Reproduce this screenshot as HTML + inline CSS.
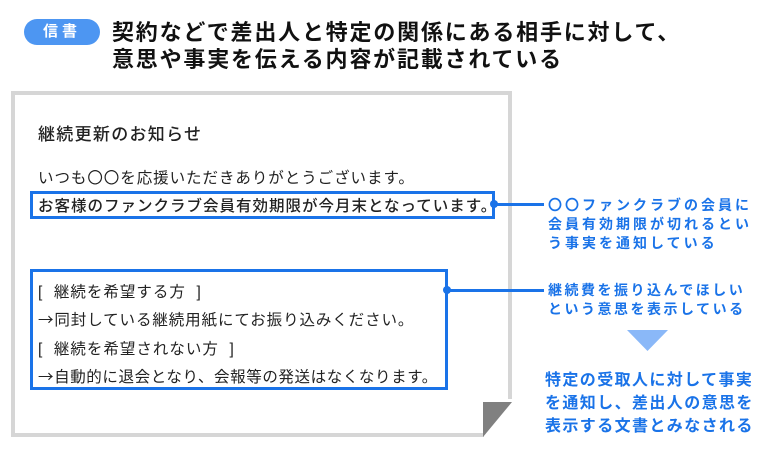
<!DOCTYPE html>
<html><head><meta charset="utf-8"><style>
body{margin:0;width:771px;height:456px;background:#fff;position:relative;overflow:hidden;font-family:"Liberation Sans","Noto Sans CJK JP",sans-serif;}
.a{position:absolute;white-space:nowrap;}
.badge{left:24px;top:19px;width:76px;height:26px;border-radius:13px;background:#4d96f2;color:#fff;font-weight:bold;font-size:15px;line-height:26px;text-align:center;letter-spacing:4px;}
.h{left:112px;top:19px;font-size:22px;font-weight:bold;letter-spacing:1.8px;line-height:27px;color:#111;}
.paper{left:11px;top:91px;width:493px;height:338px;border:4px solid #d6d6d6;background:#fff;}
.doc{font-size:15.5px;color:#222;}
.ar{font-family:"Noto Sans CJK JP",sans-serif;}
.box{border:3px solid #1a73e8;}
.blue{color:#1a73e8;font-weight:bold;}
.dot{width:8px;height:8px;border-radius:50%;background:#1a73e8;}
.line{height:3px;background:#1a73e8;}
</style></head><body>
<div class="a badge">信書</div>
<div class="a h">契約などで差出人と特定の関係にある相手に対して、<br>意思や事実を伝える内容が記載されている</div>

<div class="a paper"></div>
<svg class="a" style="left:480px;top:399px" width="40" height="45">
<polygon points="4,0 40,0 40,45 0,45 0,38 4,38" fill="#fff"/>
<polygon points="3,3 32,3 3,38" fill="#808080"/>
</svg>

<div class="a doc" style="left:38px;top:120px;font-size:17px;font-weight:500;letter-spacing:1.3px;">継続更新のお知らせ</div>
<div class="a doc" style="left:38px;top:166px;letter-spacing:0.95px;">いつも〇〇を応援いただきありがとうございます。</div>
<div class="a box" style="left:30px;top:191px;width:459px;height:22px;"></div>
<div class="a doc" style="left:38px;top:194px;font-weight:500;letter-spacing:1px;">お客様のファンクラブ会員有効期限が今月末となっています。</div>

<div class="a box" style="left:30px;top:269px;width:412px;height:115px;"></div>
<div class="a doc" style="left:38px;top:280px;letter-spacing:1px;">[&nbsp; 継続を希望する方 &nbsp;]</div>
<div class="a doc" style="left:38px;top:308px;letter-spacing:0.9px;"><span class="ar">→</span>同封している継続用紙にてお振り込みください。</div>
<div class="a doc" style="left:38px;top:337px;letter-spacing:1px;">[&nbsp; 継続を希望されない方 &nbsp;]</div>
<div class="a doc" style="left:38px;top:365px;letter-spacing:0.6px;"><span class="ar">→</span>自動的に退会となり、会報等の発送はなくなります。</div>

<div class="a dot" style="left:490px;top:200px;"></div>
<div class="a line" style="left:494px;top:203px;width:50px;"></div>
<div class="a dot" style="left:443px;top:286px;"></div>
<div class="a line" style="left:447px;top:289px;width:97px;"></div>

<div class="a blue" style="left:548px;top:196px;font-size:14px;letter-spacing:3px;line-height:19px;">〇〇ファンクラブの会員に<br>会員有効期限が切れるとい<br>う事実を通知している</div>
<div class="a blue" style="left:548px;top:281px;font-size:14px;letter-spacing:2.5px;line-height:19px;">継続費を振り込んでほしい<br>という意思を表示している</div>
<svg class="a" style="left:627px;top:330px" width="42" height="22"><polygon points="0,0 41,0 20.5,21" fill="#8ab8f8"/></svg>
<div class="a blue" style="left:545px;top:369px;font-size:16px;letter-spacing:1.4px;line-height:23px;">特定の受取人に対して事実<br>を通知し、差出人の意思を<br>表示する文書とみなされる</div>
</body></html>
